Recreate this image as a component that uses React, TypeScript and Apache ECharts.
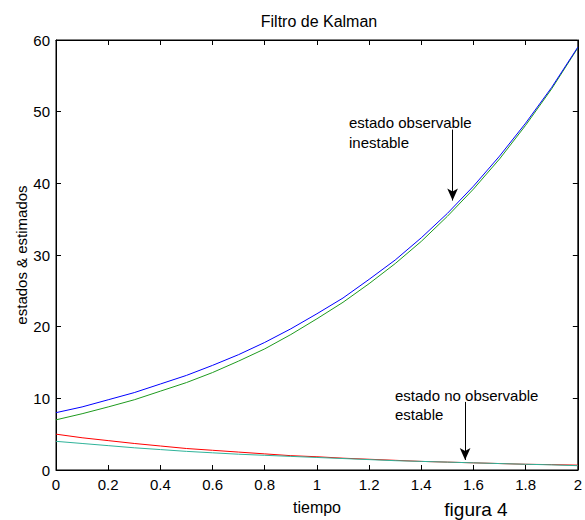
import React, { useEffect, useRef } from "react";
import * as echarts from "echarts";

const tiempo = [0, 0.1, 0.2, 0.3, 0.4, 0.5, 0.6, 0.7, 0.8, 0.9, 1.0, 1.1, 1.2, 1.3, 1.4, 1.5, 1.6, 1.7, 1.8, 1.9, 2.0];
const estadoObservable = [8.0, 8.8, 9.8, 10.8, 12.0, 13.2, 14.6, 16.1, 17.8, 19.7, 21.8, 24.0, 26.6, 29.3, 32.4, 35.8, 39.6, 43.8, 48.4, 53.4, 59.0];
const estimadoObservable = [7.0, 7.85, 8.8, 9.8, 11.0, 12.2, 13.6, 15.2, 16.9, 18.9, 21.1, 23.4, 26.0, 28.8, 31.9, 35.4, 39.2, 43.4, 48.1, 53.2, 58.9];
const estadoNoObservable = [5.0, 4.5, 4.1, 3.7, 3.35, 3.0, 2.75, 2.5, 2.25, 2.0, 1.85, 1.65, 1.5, 1.35, 1.2, 1.1, 1.0, 0.9, 0.8, 0.75, 0.68];
const estimadoNoObservable = [4.0, 3.7, 3.4, 3.1, 2.85, 2.6, 2.4, 2.2, 2.05, 1.9, 1.75, 1.6, 1.45, 1.3, 1.2, 1.1, 1.0, 0.9, 0.8, 0.72, 0.6];
const xTicks = { min: 0, max: 2, interval: 0.2 };
const yTicks = { min: 0, max: 60, interval: 10 };
const flechaObservable = [[1.52, 47.5], [1.52, 37.6]];
const flechaNoObservable = [[1.568, 9.5], [1.568, 1.4]];

const FONT = "'Liberation Sans', Arial, sans-serif";

export default function App() {
  const ref = useRef<HTMLDivElement>(null);
  useEffect(() => {
    const chart = echarts.init(ref.current!, null, { renderer: "svg" });
    const pairs = (ys: number[]) => tiempo.map((t, i) => [t, ys[i]]);
    const axisCommon = {
      axisLine: { show: true, onZero: false, lineStyle: { color: "#000", width: 1 } },
      axisTick: { show: true, inside: true, length: 5, lineStyle: { color: "#000" } },
      splitLine: { show: false },
    };
    const arrow = (pts: number[][]) => ({
      silent: true,
      symbol: ["none", "arrow"],
      symbolSize: [8, 12],
      label: { show: false },
      lineStyle: { color: "#000", width: 1, type: "solid" },
      data: [[{ coord: pts[0] }, { coord: pts[1] }]],
    });
    const txt = (text: string, x: number, y: number, size: number, align = "left", rotation = 0) => ({
      type: "text", x, y, rotation,
      style: { text, fill: "#000", font: `${size}px ${FONT}`, align, verticalAlign: "middle" },
    });
    chart.setOption({
      animation: false,
      backgroundColor: "#fff",
      grid: { left: 56, right: 2, top: 40, bottom: 50, show: true, borderColor: "#000", borderWidth: 1 },
      xAxis: [
        {
          type: "value", ...xTicks, position: "bottom", ...axisCommon,
          axisLabel: {
            color: "#000", fontFamily: FONT, fontSize: 15, margin: 7,
            formatter: (v: number) => String(Math.round(v * 10) / 10),
          },
        },
        { type: "value", ...xTicks, position: "top", ...axisCommon, axisLabel: { show: false } },
      ],
      yAxis: [
        {
          type: "value", ...yTicks, position: "left", ...axisCommon,
          axisLabel: { color: "#000", fontFamily: FONT, fontSize: 15, margin: 6 },
        },
        { type: "value", ...yTicks, position: "right", ...axisCommon, axisLabel: { show: false } },
      ],
      series: [
        {
          type: "line", data: pairs(estimadoObservable), showSymbol: false,
          lineStyle: { color: "#1e9a1e", width: 1 }, itemStyle: { color: "#1e9a1e" },
        },
        {
          type: "line", data: pairs(estadoObservable), showSymbol: false,
          lineStyle: { color: "#0000ff", width: 1 }, itemStyle: { color: "#0000ff" },
          markLine: arrow(flechaObservable),
        },
        {
          type: "line", data: pairs(estadoNoObservable), showSymbol: false,
          lineStyle: { color: "#ff0000", width: 1 }, itemStyle: { color: "#ff0000" },
        },
        {
          type: "line", data: pairs(estimadoNoObservable), showSymbol: false,
          lineStyle: { color: "#2fb39a", width: 1 }, itemStyle: { color: "#2fb39a" },
          markLine: arrow(flechaNoObservable),
        },
      ],
      graphic: [
        txt("Filtro de Kalman", 319, 21, 16, "center"),
        txt("tiempo", 317, 507, 16, "center"),
        txt("figura 4", 476, 509, 19, "center"),
        txt("estados & estimados", 21, 255, 15, "center", Math.PI / 2),
        txt("estado observable", 349, 122, 15),
        txt("inestable", 349, 142, 15),
        txt("estado no observable", 395, 395, 15),
        txt("estable", 395, 414, 15),
      ],
    });
    return () => chart.dispose();
  }, []);
  return <div ref={ref} style={{ position: "fixed", left: 0, top: 0, width: 585, height: 520 }} />;
}
